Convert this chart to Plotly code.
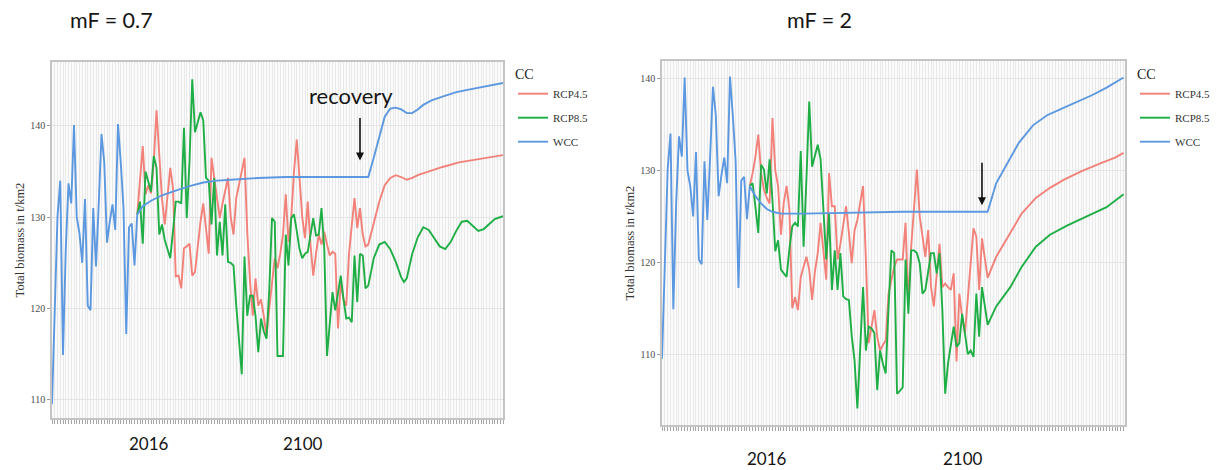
import plotly.graph_objects as go

# ---------------- data ----------------
# Observed total biomass (t/km2), shared by both fishing-mortality scenarios
hist_years = list(range(1985, 2016))
hist_biomass = [109.5, 120.5, 130.1, 134.0, 114.9, 126.4, 133.7, 131.5, 140.1, 130.0,
                128.2, 125.0, 132.0, 120.3, 119.8, 131.0, 124.6, 131.5, 139.1, 136.0,
                127.2, 129.5, 131.4, 128.6, 140.2, 136.0, 131.0, 117.2, 128.9, 129.3,
                124.7]

proj_years = list(range(2016, 2101))

# mF = 0.7
wcc_07_years = [2016, 2018, 2021, 2025, 2030, 2035, 2040, 2045, 2050, 2060, 2070, 2080,
                2090, 2100, 2102, 2104, 2106, 2108, 2110, 2112, 2114, 2116, 2118, 2120,
                2123, 2127, 2132, 2137, 2142, 2149]
wcc_07 = [130.3, 131.2, 131.8, 132.4, 132.9, 133.4, 133.8, 134.0, 134.1, 134.3, 134.4, 134.4,
          134.4, 134.4, 136.5, 138.7, 141.0, 141.9, 142.0, 141.8, 141.4, 141.4, 141.8, 142.3,
          142.8, 143.2, 143.7, 144.0, 144.3, 144.7]

rcp45_07 = [130.3, 134.0, 137.8, 132.5, 133.5, 132.6, 136.0, 141.7, 136.9, 132.0,
            129.2, 132.5, 135.4, 133.2, 123.5, 123.6, 122.2, 126.6, 126.8, 127.1,
            123.6, 124.0, 127.0, 129.5, 131.5, 128.5, 126.0, 136.5, 134.3, 132.0,
            129.9, 131.5, 133.0, 134.3, 130.0, 128.1, 132.1, 133.5, 135.0, 136.5,
            128.4, 123.0, 119.2, 123.3, 120.3, 121.0, 119.2, 117.0, 120.0, 123.0,
            125.5, 124.4, 126.0, 128.1, 132.5, 127.3, 130.0, 135.0, 138.5, 134.3,
            130.0, 127.7, 131.7, 127.0, 123.6, 126.0, 128.1, 127.0, 128.4, 127.0,
            125.8, 126.2, 126.0, 117.8, 122.9, 121.0, 120.3, 126.0, 129.5, 132.1,
            128.8, 131.0, 128.1, 126.8, 127.0]
rcp45_07_tail_years = [2102, 2104, 2106, 2108, 2110, 2112, 2114, 2116, 2118, 2122, 2127,
                       2133, 2139, 2144, 2149]
rcp45_07_tail = [129.5, 131.7, 133.5, 134.3, 134.6, 134.4, 134.1, 134.3, 134.6, 135.0, 135.5,
                 136.0, 136.3, 136.6, 136.8]

rcp85_07 = [130.3, 131.7, 127.1, 135.0, 133.9, 132.8, 136.7, 135.4, 128.1, 129.2,
            127.5, 126.5, 125.5, 128.5, 131.7, 131.7, 131.5, 139.8, 129.9, 136.1,
            145.1, 139.3, 140.5, 141.5, 140.6, 134.3, 134.0, 129.2, 134.3, 125.8,
            129.5, 125.8, 131.4, 125.1, 125.0, 124.7, 120.3, 116.0, 112.8, 125.7,
            119.2, 121.4, 121.4, 119.2, 115.2, 118.9, 117.5, 116.7, 122.0, 129.9,
            129.5, 114.8, 114.8, 114.8, 128.1, 124.7, 129.9, 130.3, 128.5, 126.5,
            125.5, 126.0, 126.2, 128.0, 129.9, 128.0, 128.1, 131.0, 126.6, 114.8,
            118.0, 121.8, 119.8, 121.5, 123.6, 121.0, 118.9, 119.0, 118.5, 125.8,
            120.7, 126.0, 125.8, 122.2, 122.5]
rcp85_07_tail_years = [2102, 2104, 2106, 2108, 2110, 2112, 2113, 2114, 2116, 2118, 2120,
                       2122, 2124, 2126, 2128, 2130, 2132, 2134, 2136, 2138, 2140, 2142,
                       2144, 2146, 2149]
rcp85_07_tail = [125.5, 127.0, 127.3, 126.5, 125.1, 123.4, 122.9, 123.3, 126.0, 127.8, 128.9,
                 128.6, 127.7, 126.8, 126.5, 127.3, 128.5, 129.5, 129.6, 129.0, 128.5, 128.7,
                 129.3, 129.8, 130.1]

# mF = 2
wcc_2_years = [2016, 2018, 2020, 2022, 2024, 2027, 2035, 2050, 2070, 2090, 2100, 2103,
               2107, 2111, 2116, 2121, 2126, 2131, 2137, 2142, 2148]
wcc_2 = [128.3, 127.2, 126.4, 125.8, 125.5, 125.3, 125.3, 125.4, 125.5, 125.5, 125.5, 128.6,
         130.8, 133.0, 134.9, 136.0, 136.7, 137.4, 138.2, 139.0, 140.1]

rcp45_2 = [128.3, 129.7, 131.5, 133.9, 129.7, 127.9, 127.0, 126.4, 135.7, 130.0,
           128.3, 123.0, 126.5, 128.3, 125.7, 115.0, 116.2, 114.8, 118.4, 119.5,
           120.6, 119.2, 115.9, 119.0, 121.0, 124.3, 121.0, 118.1, 129.7, 126.1,
           126.1, 120.3, 122.0, 123.9, 126.1, 123.2, 119.9, 123.5, 124.6, 126.5,
           128.3, 120.3, 111.2, 113.0, 114.8, 111.9, 110.4, 111.0, 111.5, 116.6,
           118.0, 119.5, 120.3, 120.3, 120.3, 124.3, 115.5, 121.7, 126.0, 130.1,
           125.0, 122.5, 120.6, 123.5, 117.3, 115.2, 118.5, 122.0, 117.3, 117.7,
           117.3, 117.0, 118.8, 109.2, 116.6, 114.0, 112.3, 116.0, 119.5, 123.7,
           122.8, 117.0, 122.6, 120.6, 118.3]
rcp45_2_tail_years = [2103, 2108, 2112, 2117, 2122, 2127, 2133, 2140, 2145, 2148]
rcp45_2_tail = [120.6, 123.2, 125.3, 127.0, 128.1, 129.0, 129.9, 130.8, 131.4, 131.9]

rcp85_2 = [128.3, 128.6, 126.0, 123.2, 130.6, 130.1, 127.5, 131.2, 126.8, 121.2,
           122.4, 119.2, 118.8, 118.4, 121.5, 123.9, 124.3, 123.9, 132.1, 121.7,
           129.0, 137.5, 130.4, 131.5, 132.8, 131.2, 125.3, 120.3, 125.3, 117.0,
           121.3, 117.0, 121.0, 116.3, 116.0, 115.9, 112.0, 109.3, 104.1, 110.0,
           117.3, 110.4, 113.0, 112.8, 112.3, 106.1, 110.4, 109.0, 107.9, 115.0,
           121.3, 121.0, 105.7, 106.0, 106.4, 120.3, 114.4, 121.3, 121.3, 121.0,
           119.9, 116.6, 117.0, 119.0, 121.0, 121.0, 118.8, 121.0, 114.8, 105.7,
           109.0, 111.0, 113.0, 110.8, 111.2, 114.4, 112.0, 110.0, 110.4, 109.7,
           116.6, 111.9, 117.3, 115.2, 113.2]
rcp85_2_tail_years = [2103, 2108, 2112, 2117, 2122, 2128, 2135, 2142, 2148]
rcp85_2_tail = [115.2, 117.3, 119.5, 121.7, 123.0, 124.0, 125.0, 126.0, 127.4]

scenario_names = ["RCP4.5", "RCP8.5", "WCC"]
scenario_colors = {"RCP4.5": "#f2817a", "RCP8.5": "#1fae45", "WCC": "#5c98e0"}
y_tick_values = [110, 120, 130, 140]

SERIF = "Liberation Serif, Times New Roman, serif"
SANS = "Lato, Open Sans, sans-serif"

# ---------------- figure ----------------
fig = go.Figure()


def add_panel(xa, ya, legend_id, wcc_years, wcc, r45, r45_ty, r45_t, r85, r85_ty, r85_t):
    series = {
        "RCP4.5": (proj_years + r45_ty, r45 + r45_t),
        "RCP8.5": (proj_years + r85_ty, r85 + r85_t),
        "WCC": (hist_years + wcc_years, hist_biomass + wcc),
    }
    for name in scenario_names:
        xs, ys = series[name]
        fig.add_trace(go.Scatter(
            x=xs, y=ys, mode="lines", name=name,
            line=dict(color=scenario_colors[name], width=1.9),
            xaxis=xa, yaxis=ya, legend=legend_id, legendgroup=name + legend_id,
        ))


add_panel("x", "y", "legend", wcc_07_years, wcc_07,
          rcp45_07, rcp45_07_tail_years, rcp45_07_tail,
          rcp85_07, rcp85_07_tail_years, rcp85_07_tail)
add_panel("x2", "y2", "legend2", wcc_2_years, wcc_2,
          rcp45_2, rcp45_2_tail_years, rcp45_2_tail,
          rcp85_2, rcp85_2_tail_years, rcp85_2_tail)

W, H = 1218, 470


def px_x(p):
    return p / W


def px_y(p):
    return 1 - p / H


xaxis_common = dict(
    dtick=1, tick0=1985, ticks="outside", ticklen=4, tickcolor="#a6a6a6", tickwidth=1,
    showticklabels=False, showgrid=True, gridcolor="#e9e9e9", gridwidth=1,
    showline=True, mirror=True, linecolor="#c4c4c4", linewidth=1.5, zeroline=False,
    fixedrange=True,
)
yaxis_common = dict(
    tickvals=y_tick_values, ticks="outside", ticklen=3, tickcolor="#9a9a9a",
    tickfont=dict(family=SERIF, size=10, color="#4d4d4d"),
    showgrid=True, gridcolor="#e4e4e4", gridwidth=1,
    showline=True, mirror=True, linecolor="#c4c4c4", linewidth=1.5, zeroline=False,
    title=dict(text="Total biomass in t/km2", font=dict(family=SERIF, size=12.5, color="#333333"),
               standoff=3),
    fixedrange=True,
)

legend_common = dict(
    xanchor="left", yanchor="top", bgcolor="rgba(0,0,0,0)",
    font=dict(family=SERIF, size=11, color="#333333"),
    title=dict(text="CC", font=dict(family=SERIF, size=14, color="#222222")),
    tracegroupgap=5, itemwidth=30,
)

fig.update_layout(
    width=W, height=H,
    margin=dict(l=0, r=0, t=0, b=0),
    paper_bgcolor="white", plot_bgcolor="#fbfbfb",
    xaxis=dict(domain=[px_x(52), px_x(503)], range=[1985, 2149], anchor="y", **xaxis_common),
    yaxis=dict(domain=[px_y(418), px_y(62)], range=[108, 147], anchor="x", **yaxis_common),
    xaxis2=dict(domain=[px_x(662), px_x(1125)], range=[1985, 2148.5], anchor="y2", **xaxis_common),
    yaxis2=dict(domain=[px_y(425), px_y(61)], range=[102.3, 141.9], anchor="x2", **yaxis_common),
    legend=dict(x=px_x(513), y=px_y(61), **legend_common),
    legend2=dict(x=px_x(1135), y=px_y(61), **legend_common),
    showlegend=True,
)


def label(text, cx, cy, size):
    return dict(text=text, xref="paper", yref="paper", x=px_x(cx), y=px_y(cy),
                xanchor="center", yanchor="middle", showarrow=False,
                font=dict(family=SANS, size=size, color="#151515"))


annotations = [
    label("mF = 0.7", 111, 20, 21.5),
    label("mF = 2", 819, 20, 21.5),
    label("recovery", 351, 96, 22),
    label("2016", 149, 443, 17),
    label("2100", 303, 443, 17),
    label("2016", 767, 458, 17),
    label("2100", 963, 458, 17),
    # recovery arrows
    dict(text="", xref="x", yref="y", x=2097, y=136.2, ax=0, ay=-44,
         showarrow=True, arrowhead=2, arrowsize=1, arrowwidth=1.6, arrowcolor="#111111"),
    dict(text="", xref="x2", yref="y2", x=2098, y=126.2, ax=0, ay=-44,
         showarrow=True, arrowhead=2, arrowsize=1, arrowwidth=1.6, arrowcolor="#111111"),
]
fig.update_layout(annotations=annotations)

fig.write_html("out.html")
